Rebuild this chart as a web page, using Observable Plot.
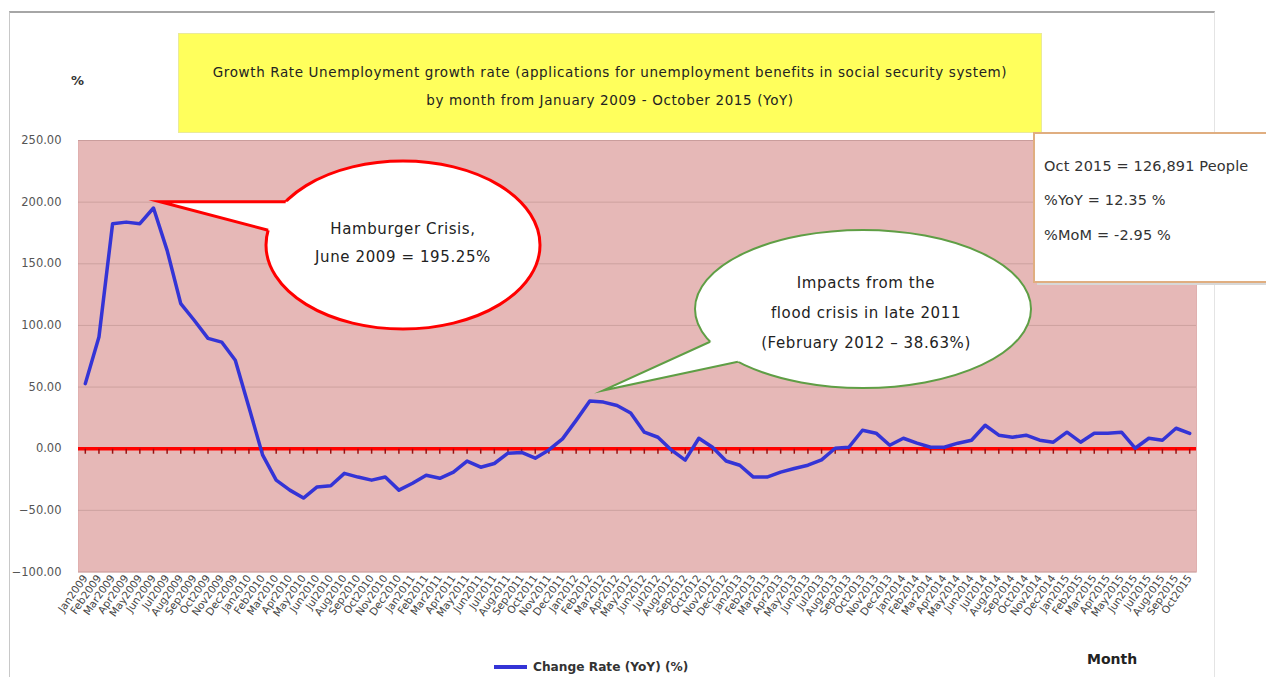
<!DOCTYPE html>
<html>
<head>
<meta charset="utf-8">
<script src="https://cdn.jsdelivr.net/npm/d3@7"></script>
<script src="https://cdn.jsdelivr.net/npm/@observablehq/plot@0.6"></script>
<style>
  html, body { margin: 0; padding: 0; background: #fff; }
  #wrap { position: relative; width: 1266px; height: 677px; overflow: hidden; font-family: "DejaVu Sans", sans-serif; }
  #frame { position: absolute; left: 9px; top: 11px; width: 1204px; height: 700px; border-top: 2px solid #a6a6a6; border-left: 1px solid #c8c8c8; border-right: 1px solid #e4e4e4; }
  #title { position: absolute; left: 178px; top: 33px; width: 864px; height: 100px; background: #ffff5c; border: 1px solid #eaea9a; box-sizing: border-box; text-align: center; font-size: 13.5px; letter-spacing: 0.62px; color: #222; line-height: 28px; padding-top: 24px; }
  #pct { position: absolute; left: 71px; top: 73px; font-size: 13px; font-weight: bold; color: #333; }
  #chart { position: absolute; left: 0; top: 120px; }
  #overlay { position: absolute; left: 0; top: 0; pointer-events: none; }
  #legend { position: absolute; left: 494px; top: 660px; font-size: 12.2px; font-weight: bold; color: #333; display: flex; align-items: center; }
  #legend .sw { width: 33px; height: 4px; background: #3434d6; margin-right: 6px; }
  #month { position: absolute; left: 1087px; top: 651px; font-size: 14px; font-weight: bold; color: #222; }
</style>
</head>
<body>
<div id="wrap">
  <div id="frame"></div>
  <div id="title">Growth Rate Unemployment growth rate (applications for unemployment benefits in social security system)<br>by month from January 2009 - October 2015 (YoY)</div>
  <div id="pct">%</div>
  <div id="chart"></div>
  <div id="legend"><div class="sw"></div>Change Rate (YoY) (%)</div>
  <div id="month">Month</div>
</div>
<script>
// ---- data ----
const monthNames = ["Jan","Feb","Mar","Apr","May","Jun","Jul","Aug","Sep","Oct","Nov","Dec"];
const years = [2009, 2010, 2011, 2012, 2013, 2014, 2015];
const labels = years.flatMap(y => monthNames.map(m => m + y)).slice(0, 82); // Jan2009 .. Oct2015

const values = [
  52.8, 90.6, 182.5, 183.8, 182.5, 195.25, 160.9, 117.7, 104.0, 89.5, 86.5, 71.7,      // 2009
  33.6, -5.0, -25.5, -33.6, -40.0, -31.0, -30.0, -20.0, -23.0, -25.5, -23.0, -33.6,   // 2010
  -28.0, -21.5, -24.0, -19.0, -10.0, -15.0, -12.0, -3.6, -3.0, -7.7, -1.0, 8.0,      // 2011
  23.0, 38.63, 37.8, 35.0, 29.0, 13.4, 9.3, -1.2, -9.3, 8.5, 1.2, -10.0,             // 2012
  -13.4, -23.0, -23.0, -19.0, -16.0, -13.4, -9.0, 0.4, 1.2, 15.0, 12.6, 2.8,          // 2013
  8.5, 4.5, 1.2, 1.2, 4.5, 6.9, 19.0, 11.0, 9.3, 11.0, 6.9, 5.3,                      // 2014
  13.4, 5.3, 12.6, 12.6, 13.4, 0.4, 8.5, 6.9, 16.6, 12.35                             // 2015
];
const yTicks = [-100, -50, 0, 50, 100, 150, 200, 250];

const data = labels.map((m, i) => ({ m, v: values[i] }));

// small downward tick glyph for the axis crossing at zero
const tickSym = { draw(ctx) { ctx.moveTo(0, 0); ctx.lineTo(0, 5); } };

const W = 1220, H = 540, TOP = 120;
const chart = Plot.plot({
  width: W, height: H,
  marginLeft: 78, marginRight: 24, marginTop: 20, marginBottom: 88.5,
  style: { background: "transparent", fontFamily: "DejaVu Sans, sans-serif", overflow: "visible" },
  x: { type: "point", domain: labels, padding: 0.5, label: null },
  y: { domain: [-100, 250], label: null },
  marks: [
    Plot.frame({ fill: "#e6b8b7", stroke: "#e0b0af" }),
    Plot.gridY(yTicks, { stroke: "#b88e8d", strokeOpacity: 0.55, strokeWidth: 1 }),
    Plot.axisY(yTicks, { tickSize: 0, tickPadding: 17, tickFormat: d3.format(".2f"), fontSize: 11.5, fill: "#555", label: null }),
    Plot.axisX({ tickSize: 0, tickRotate: -55, fontSize: 10.5, fill: "#444", tickPadding: 4, label: null }),
    Plot.ruleY([0], { stroke: "#ff0000", strokeWidth: 3.5 }),
    Plot.dot(data, { x: "m", y: () => 0, symbol: tickSym, r: 3, fill: "none", stroke: "#9a1010", strokeWidth: 1.5 }),
    Plot.line(data, { x: "m", y: "v", stroke: "#3434d6", strokeWidth: 3.5 })
  ]
});
document.getElementById("chart").appendChild(chart);

// ---- annotations (callouts anchored to the data through the plot's scales) ----
const xs = chart.scale("x"), ys = chart.scale("y");
const ov = d3.select("#wrap").append("svg").attr("id", "overlay").attr("width", 1266).attr("height", 677)
  .style("font-family", "DejaVu Sans, sans-serif");

// point where the segment tip->p first meets the ellipse boundary
function hit(cx, cy, rx, ry, tip, p) {
  const f = t => { const x = tip[0] + t * (p[0] - tip[0]), y = tip[1] + t * (p[1] - tip[1]); return ((x - cx) / rx) ** 2 + ((y - cy) / ry) ** 2 - 1; };
  let lo = 0, hi = 1;
  for (let k = 0; k < 40; k++) { const mid = (lo + hi) / 2; if (f(mid) > 0) lo = mid; else hi = mid; }
  return [tip[0] + lo * (p[0] - tip[0]), tip[1] + lo * (p[1] - tip[1])];
}
function bubble(g, cx, cy, rx, ry, tip, a, b, color, sw, fill) {
  g.append("ellipse").attr("cx", cx).attr("cy", cy).attr("rx", rx).attr("ry", ry)
    .attr("fill", fill).attr("stroke", color).attr("stroke-width", sw);
  g.append("polygon").attr("points", [tip, a, b].map(p => p.join(",")).join(" ")).attr("fill", fill);
  const ha = hit(cx, cy, rx, ry, tip, a), hb = hit(cx, cy, rx, ry, tip, b);
  g.append("polyline").attr("points", [ha, tip, hb].map(p => p.join(",")).join(" "))
    .attr("fill", "none").attr("stroke", color).attr("stroke-width", sw).attr("stroke-linejoin", "miter").attr("stroke-miterlimit", 20);
}
const txt = (g, x, y, t, anchor) => g.append("text").attr("x", x).attr("y", y).attr("text-anchor", anchor)
  .attr("font-size", 15).attr("letter-spacing", 0.6).attr("fill", "#222").text(t);

// Hamburger crisis callout
const tip1 = [xs.apply("Jun2009") + 7, ys.apply(200) + TOP];
const g1 = ov.append("g");
bubble(g1, 403, 245, 137, 84, tip1, [300, tip1[1]], [290, 236], "#ff0000", 3, "#ffffff");
txt(g1, 403, 234, "Hamburger Crisis,", "middle");
txt(g1, 403, 262, "June 2009 = 195.25%", "middle");

// Flood callout
const tip2 = [xs.apply("Mar2012"), ys.apply(values[37]) + TOP - 10];
const g2 = ov.append("g");
bubble(g2, 863, 309, 168, 79, tip2, [725, 335], [755, 358], "#5f9e45", 2, "#ffffff");
[["Impacts from the", 288], ["flood crisis in late 2011", 318], ["(February 2012 \u2013 38.63%)", 348]].forEach(([t, y]) => txt(g2, 866, y, t, "middle"));

// Info box
const g3 = ov.append("g");
g3.append("rect").attr("x", 1037).attr("y", 136).attr("width", 240).attr("height", 149).attr("fill", "#d8d8d8");
g3.append("rect").attr("x", 1034).attr("y", 133).attr("width", 240).attr("height", 149)
  .attr("fill", "#ffffff").attr("stroke", "#e0ae80").attr("stroke-width", 2);
[["Oct 2015 = 126,891 People", 171], ["%YoY = 12.35 %", 205], ["%MoM = -2.95 %", 240]].forEach(([t, y]) => {
  g3.append("text").attr("x", 1044).attr("y", y).attr("font-size", 14.5).attr("letter-spacing", 0.15).attr("fill", "#333").text(t);
});
</script>
</body>
</html>
